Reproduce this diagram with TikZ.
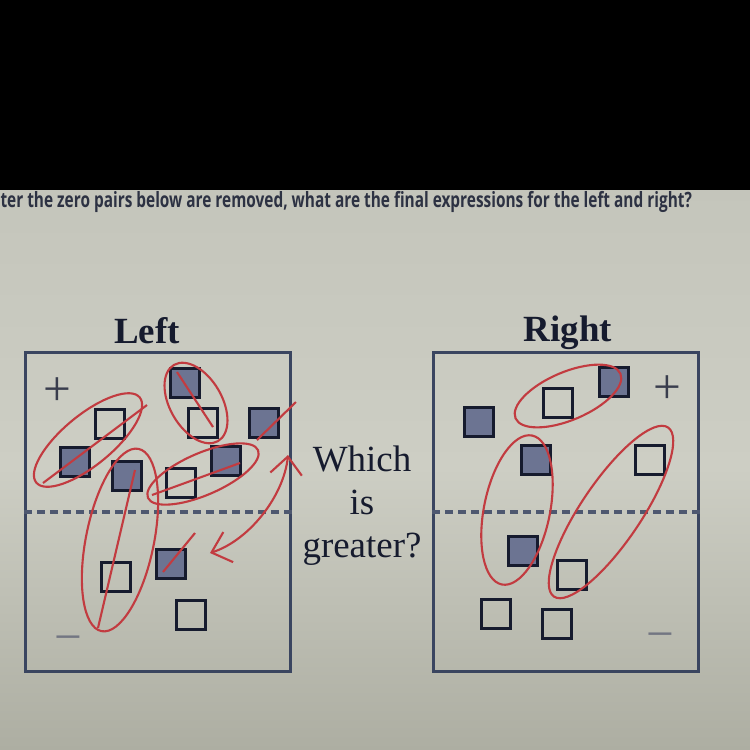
\documentclass[tikz,border=0pt]{standalone}
\usepackage{fontspec}
\setmainfont{Liberation Serif}
\newfontfamily\screenfont{Open Sans}
\usepackage{tikz}
\usetikzlibrary{arrows.meta,calc,positioning}
\definecolor{ink}{HTML}{161B2E}
\definecolor{frame}{HTML}{3A4560}
\definecolor{tilegray}{HTML}{6C7492}
\definecolor{pen}{HTML}{C23B40}
\definecolor{glasstop}{HTML}{C4C5BB}
\definecolor{glassmid}{HTML}{CDCEC4}
\definecolor{glassbot}{HTML}{ADAEA2}
\tikzset{every picture/.style={
  >={Straight Barb[length=5pt,width=9pt]}   % hand drawn arrow heads.
  }
}

\begin{document}
\begin{tikzpicture}[
    x=0.01cm,y=-0.01cm,
    tile/.style={
      draw=ink,
      line width=0.85pt,
      minimum size=0.29cm,
      inner sep=0pt
    },
    dark/.style={tile,fill=tilegray},
    light/.style={tile,fill=none},
    panel/.style={
      draw=frame,
      line width=0.65pt,
      minimum width=2.65cm,
      minimum height=3.19cm,
      inner sep=0pt
    },
    zero/.style={draw=frame!90,line width=1pt,dash pattern=on 0.08cm off 0.05cm},
    title/.style={font=\fontsize{10.5pt}{12pt}\selectfont\bfseries,text=ink,inner sep=0pt},
    sign/.style={font=\fontsize{14pt}{14pt}\selectfont,text=ink!85,inner sep=0pt},
    redpen/.style={draw=pen,line width=0.6pt}
  ]

    % The screen and the black part above it.
    \useasboundingbox (0,0) rectangle (750,750);
    \shade[top color=glasstop,bottom color=glassbot,middle color=glassmid]
      (0,185) rectangle (750,750);
    \node[anchor=base west,inner sep=0pt,xscale=0.73,text=ink!90,
      font=\screenfont\fontsize{6pt}{6pt}\selectfont\bfseries] (question) at (0,207)
      {ter the zero pairs below are removed, what are the final expressions for the left and right?};
    \fill[black] (0,0) rectangle (750,190);

    % Draw the two mats.
    \node[panel] (left) at (158,512) {};
    \node[panel] (right) at (566,512) {};
    \draw[zero] (left.west) -- (left.east);
    \draw[zero] (right.west) -- (right.east);

    % .. and label them.
    \node[title,anchor=base] at (147,343) {Left};
    \node[title,anchor=base] at (568,341) {Right};
    \node[anchor=base,align=center,inner sep=0pt,text=ink,
      font=\fontsize{10.5pt}{12.2pt}\selectfont] (ask) at (362,557)
      {Which\\is\\greater?};

    % Signs of the two halves.
    \node[sign] (lplus) at (57,392) {+};
    \node[sign,text=ink!60] (lminus) at (68,645) {−};
    \node[sign] (rplus) at (667,390) {+};
    \node[sign,text=ink!60] (rminus) at (660,642) {−};

    % Tiles on the left mat.
    \node[dark] (l1) at (185,383) {};
    \node[light] (l2) at (110,424) {};
    \node[light] (l3) at (203,423) {};
    \node[dark] (l4) at (264,423) {};
    \node[dark] (l5) at (75,462) {};
    \node[dark] (l6) at (127,476) {};
    \node[light] (l7) at (181,483) {};
    \node[dark] (l8) at (226,461) {};
    \node[light] (l9) at (116,577) {};
    \node[dark] (l10) at (171,564) {};
    \node[light] (l11) at (191,615) {};

    % Tiles on the right mat.
    \node[dark] (r1) at (614,382) {};
    \node[light] (r2) at (558,403) {};
    \node[dark] (r3) at (479,422) {};
    \node[dark] (r4) at (536,460) {};
    \node[light] (r5) at (650,460) {};
    \node[dark] (r6) at (523,551) {};
    \node[light] (r7) at (572,575) {};
    \node[light] (r8) at (496,614) {};
    \node[light] (r9) at (557,624) {};

    % Zero pairs circled by hand on the left.
    \draw[redpen,rotate around={39.5:(88,440)}] (88,440)
      ellipse [x radius=67,y radius=25];
    \draw[redpen,rotate around={-60:(196,403)}] (196,403)
      ellipse [x radius=44,y radius=26];
    \draw[redpen,rotate around={23.4:(203,474)}] (203,474)
      ellipse [x radius=60,y radius=21];
    \draw[redpen,rotate around={78.5:(120,540)}] (120,540)
      ellipse [x radius=93,y radius=34];

    % .. and crossed out.
    \draw[redpen] (43,483) -- (147,405);
    \draw[redpen] (177,372) -- (213,427);
    \draw[redpen] (257,440) -- (296,402);
    \draw[redpen] (152,495) -- (240,463);
    \draw[redpen] (98,628) -- (135,470);
    \draw[redpen] (163,572) -- (195,533);

    % The pair still to be matched up.
    \coordinate (a0) at (210,553);
    \coordinate (a1) at (288,455);
    \draw[redpen,<->] (a0) .. controls (250,540) and (284,495) .. (a1);

    % Zero pairs circled by hand on the right.
    \draw[redpen,rotate around={23:(568,396)}] (568,396)
      ellipse [x radius=57,y radius=24];
    \draw[redpen,rotate around={78.5:(517,510)}] (517,510)
      ellipse [x radius=76,y radius=33];
    \draw[redpen,rotate around={56:(611,512)}] (611,512)
      ellipse [x radius=102,y radius=30];
  \end{tikzpicture}
\end{document}
